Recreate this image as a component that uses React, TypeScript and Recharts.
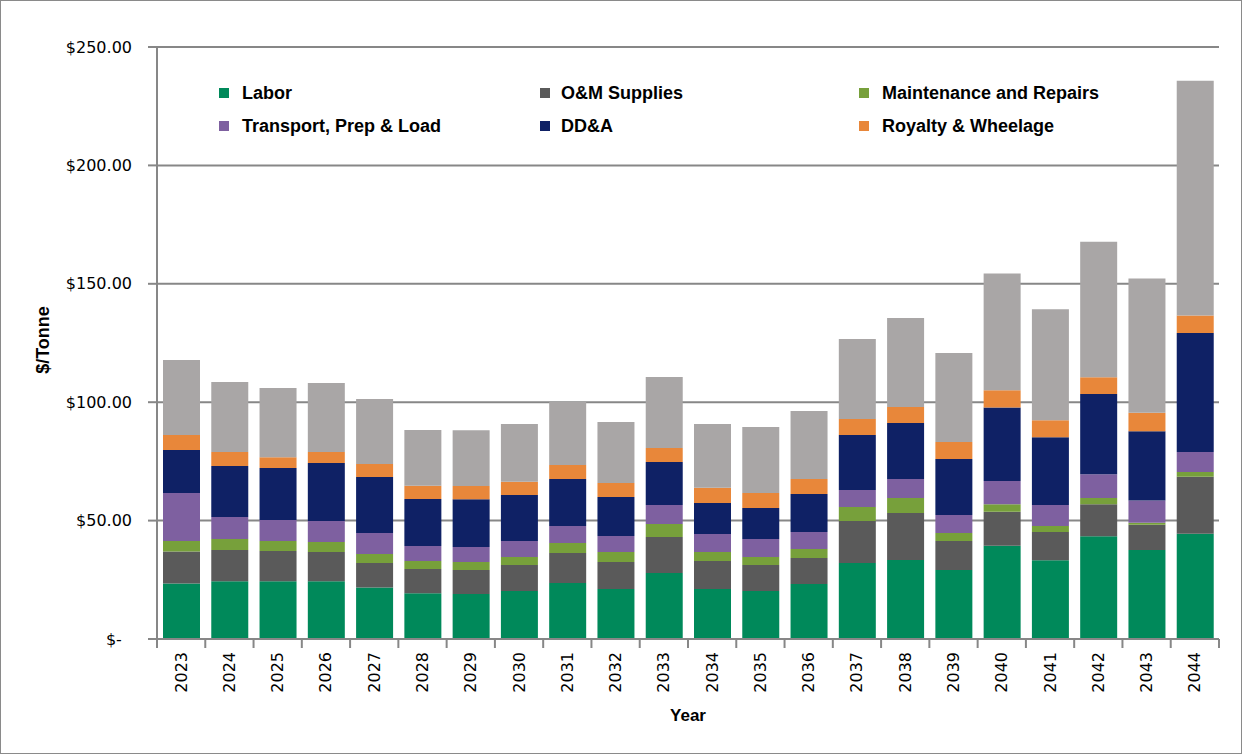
import React from 'react';
import { BarChart, Bar, XAxis, YAxis, CartesianGrid, Legend, Label } from 'recharts';

const years = ['2023', '2024', '2025', '2026', '2027', '2028', '2029', '2030', '2031', '2032', '2033', '2034', '2035', '2036', '2037', '2038', '2039', '2040', '2041', '2042', '2043', '2044'];
const labor = [23.4, 24.4, 24.4, 24.4, 21.8, 19.3, 19.0, 20.3, 23.6, 21.1, 27.9, 21.1, 20.3, 23.2, 32.1, 33.4, 29.1, 39.4, 33.3, 43.4, 37.6, 44.4];
const omSupplies = [13.5, 13.2, 12.8, 12.3, 10.3, 10.3, 10.1, 11.0, 12.7, 11.4, 15.2, 11.8, 11.0, 11.0, 17.7, 19.8, 12.3, 14.3, 11.9, 13.5, 10.7, 24.1];
const maintenance = [4.5, 4.6, 4.2, 4.3, 3.8, 3.3, 3.4, 3.3, 4.2, 4.2, 5.5, 3.8, 3.3, 3.8, 5.9, 6.3, 3.4, 3.2, 2.5, 2.6, 0.8, 2.0];
const transport = [20.3, 9.3, 8.9, 8.8, 8.9, 6.4, 6.3, 6.8, 7.2, 6.8, 8.0, 7.6, 7.6, 7.2, 7.2, 8.1, 7.6, 9.8, 8.9, 10.1, 9.4, 8.5];
const dda = [18.1, 21.6, 21.9, 24.5, 23.6, 19.8, 20.2, 19.4, 19.9, 16.5, 18.1, 13.1, 13.1, 16.0, 23.2, 23.6, 23.6, 31.1, 28.6, 33.9, 29.2, 50.2];
const royalty = [6.3, 5.9, 4.5, 4.7, 5.5, 5.6, 5.6, 5.6, 5.9, 5.9, 6.0, 6.5, 6.4, 6.4, 6.8, 6.8, 7.2, 7.2, 7.2, 7.0, 7.8, 7.4];
const other = [31.7, 29.5, 29.3, 29.1, 27.5, 23.6, 23.6, 24.4, 26.6, 25.7, 29.9, 26.9, 27.8, 28.7, 33.8, 37.6, 37.6, 49.3, 46.8, 57.3, 56.7, 99.1];
const yTicks = [0, 50, 100, 150, 200, 250];

const series = [
  { key: 'labor', name: 'Labor', color: '#00895A', values: labor, legend: true },
  { key: 'om', name: 'O&M Supplies', color: '#5A5A5A', values: omSupplies, legend: true },
  { key: 'maint', name: 'Maintenance and Repairs', color: '#77A03B', values: maintenance, legend: true },
  { key: 'transport', name: 'Transport, Prep & Load', color: '#7E60A0', values: transport, legend: true },
  { key: 'dda', name: 'DD&A', color: '#0F2165', values: dda, legend: true },
  { key: 'royalty', name: 'Royalty & Wheelage', color: '#E8873A', values: royalty, legend: true },
  { key: 'other', name: 'Other', color: '#A9A6A6', values: other, legend: false },
];

const data = years.map((year, i) => {
  const row: Record<string, string | number> = { year };
  series.forEach((s) => {
    row[s.key] = s.values[i];
  });
  return row;
});

const AXIS = '#878787';
const FONT = '"DejaVu Sans", Verdana, sans-serif';
const BOLD = '"Liberation Sans", Arial, sans-serif';

const legendOrder = ['Labor', 'O&M Supplies', 'Maintenance and Repairs', 'Transport, Prep & Load', 'DD&A', 'Royalty & Wheelage'];

const LegendContent = (props: any) => {
  const payload = (props.payload || []).filter((p: any) => legendOrder.includes(p.value));
  payload.sort((a: any, b: any) => legendOrder.indexOf(a.value) - legendOrder.indexOf(b.value));
  return (
    <div style={{ display: 'grid', gridTemplateColumns: '321px 319px 320px', rowGap: 11 }}>
      {payload.map((p: any, i: number) => (
        <div key={p.value} style={{ display: 'flex', alignItems: 'center', height: 22 }}>
          <span style={{ display: 'inline-block', width: 10, height: 10, background: p.color, marginRight: i % 3 === 1 ? 11 : 13 }} />
          <span style={{ fontFamily: BOLD, fontWeight: 'bold', fontSize: 18, color: '#000', whiteSpace: 'nowrap' }}>{p.value}</span>
        </div>
      ))}
    </div>
  );
};

const XTick = (props: any) => {
  const { x, y, payload, index, visibleTicksCount } = props;
  const half = payload && typeof payload.offset === 'number' ? payload.offset : 24;
  const isLast = index === visibleTicksCount - 1;
  return (
    <g>
      <line x1={x - half} x2={x - half} y1={y} y2={y + 9} stroke={AXIS} strokeWidth={2} />
      {isLast && <line x1={x + half} x2={x + half} y1={y} y2={y + 9} stroke={AXIS} strokeWidth={2} />}
      <text
        x={x}
        y={y + 13}
        transform={`rotate(-90, ${x}, ${y + 13})`}
        textAnchor="end"
        dominantBaseline="central"
        fontFamily={FONT}
        fontSize={16}
        fill="#000"
      >
        {payload.value}
      </text>
    </g>
  );
};

const formatY = (v: number) => (v === 0 ? '$-\u00A0\u00A0' : `$${v.toFixed(2)}`);

export default function App() {
  return (
    <div style={{ position: 'absolute', left: 0, top: 0, width: 1242, height: 754, background: '#fff' }}>
      <BarChart
        width={1242}
        height={754}
        data={data}
        margin={{ top: 47, right: 23, bottom: 25, left: 8 }}
        barSize={37}
      >
        <CartesianGrid vertical={false} stroke={AXIS} strokeWidth={2} />
        <XAxis
          dataKey="year"
          height={90}
          interval={0}
          tickLine={false}
          tickSize={0}
          tickMargin={0}
          axisLine={{ stroke: AXIS, strokeWidth: 2 }}
          tick={<XTick />}
        >
          <Label
            value="Year"
            position="insideBottom"
            offset={8}
            style={{ fontFamily: BOLD, fontWeight: 'bold', fontSize: 17, fill: '#000' }}
          />
        </XAxis>
        <YAxis
          width={149}
          domain={[0, 250]}
          ticks={yTicks}
          tickFormatter={formatY}
          tickSize={9}
          tickMargin={16}
          axisLine={{ stroke: AXIS, strokeWidth: 2 }}
          tickLine={{ stroke: AXIS, strokeWidth: 2 }}
          tick={{ fontFamily: FONT, fontSize: 16, fill: '#000' }}
          interval={0}
        >
          <Label
            content={(p: any) => {
              const vb = p.viewBox || {};
              const cx = (vb.x ?? 8) + 35;
              const cy = (vb.y ?? 47) + (vb.height ?? 592) / 2 - 3;
              return (
                <text
                  x={cx}
                  y={cy}
                  transform={`rotate(-90, ${cx}, ${cy})`}
                  textAnchor="middle"
                  dominantBaseline="central"
                  fontFamily={BOLD}
                  fontWeight="bold"
                  fontSize={18}
                  fill="#000"
                >
                  $/Tonne
                </text>
              );
            }}
          />
        </YAxis>
        <Legend
          layout="horizontal"
          verticalAlign="middle"
          align="center"
          content={<LegendContent />}
          wrapperStyle={{ top: 82, left: 219, width: 980, height: 70 }}
        />
        {series.map((s) => (
          <Bar
            key={s.key}
            dataKey={s.key}
            name={s.name}
            stackId="a"
            fill={s.color}
            isAnimationActive={false}
            legendType={s.legend ? 'square' : 'none'}
          />
        ))}
      </BarChart>
      <div
        style={{
          position: 'absolute',
          left: 0,
          top: 0,
          width: 1242,
          height: 754,
          boxSizing: 'border-box',
          border: '1px solid #8a8a8a',
          pointerEvents: 'none',
        }}
      />
    </div>
  );
}
